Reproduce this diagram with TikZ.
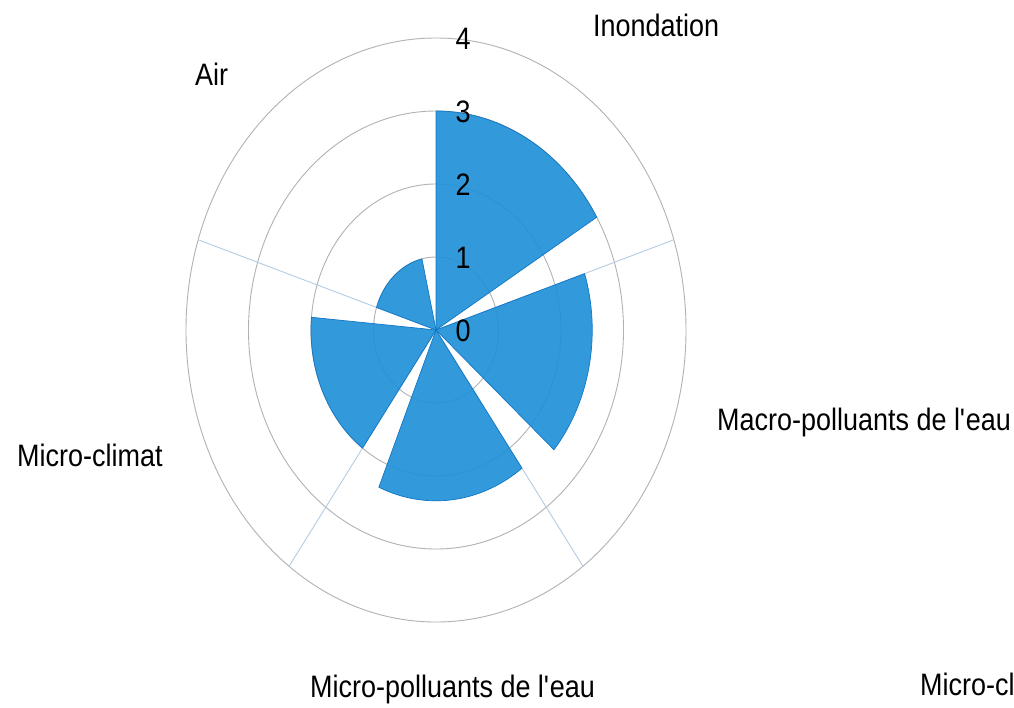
\documentclass[tikz,border=0pt]{standalone}
\usepackage{fontspec}
\setmainfont[FakeStretch=0.87]{Liberation Sans}
\definecolor{sectorblue}{RGB}{28,144,215}
\definecolor{sectoredge}{RGB}{18,118,198}
\definecolor{ringgray}{RGB}{178,178,178}
\definecolor{divblue}{RGB}{180,205,228}
\tikzset{
  gridring/.style={draw=ringgray, line width=0.9pt},
  divider/.style={draw=divblue, line width=0.9pt},
  sectorfill/.style={fill=sectorblue, fill opacity=0.9, draw=sectoredge, line width=0.7pt, line join=miter},
  catlabel/.style={anchor=base west, inner sep=0pt, font=\fontsize{31}{36}\selectfont, text=black},
  ticklabel/.style={anchor=base, inner sep=0pt, font=\fontsize{31}{36}\selectfont, text=black}
}
\begin{document}
\begin{tikzpicture}[x=1pt,y=1pt]
\useasboundingbox[fill=white] (0,0) rectangle (1014,-707);
\coordinate (C) at (436,-330);
% grid rings
\foreach \k in {1,2,3,4}{
  \pgfmathsetmacro\rx{62.5*\k}
  \pgfmathsetmacro\ry{73*\k}
  \draw[gridring] (C) ellipse[x radius=\rx, y radius=\ry];
}
% category dividers
\foreach \a in {18,-54,-126,162}{
  \pgfmathsetmacro\px{250*cos(\a)}
  \pgfmathsetmacro\py{292*sin(\a)}
  \draw[divider] (C) -- ++(\px,\py);
}
% sectors
\foreach \a/\v in {90/3, 18/2.5, -54/2.34, -126/2, 162/1}{
  \pgfmathsetmacro\rx{62.5*\v}
  \pgfmathsetmacro\ry{73*\v}
  \pgfmathsetmacro\px{\rx*cos(\a)}
  \pgfmathsetmacro\py{\ry*sin(\a)}
  \pgfmathsetmacro\e{\a-59}
  \draw[sectorfill] (C) -- ++(\px,\py) arc[start angle=\a, end angle=\e, x radius=\rx, y radius=\ry] -- cycle;
}
% tick labels
\node[ticklabel] (t0) at (463,-341) {0};
\node[ticklabel] (t1) at (463,-268) {1};
\node[ticklabel] (t2) at (463,-195) {2};
\node[ticklabel] (t3) at (463,-122) {3};
\node[ticklabel] (t4) at (463,-49) {4};
% category labels
\node[catlabel] (inond) at (593,-36) {Inondation};
\node[catlabel] (air) at (195,-85) {Air};
\node[catlabel] (macro) at (717,-430) {Macro-polluants de l\textquotesingle eau};
\node[catlabel] (mclim) at (17,-466) {Micro-climat};
\node[catlabel] (micro) at (310,-697) {Micro-polluants de l\textquotesingle eau};
\node[catlabel] (mcl) at (920,-695) {Micro-cl};
\end{tikzpicture}
\end{document}
